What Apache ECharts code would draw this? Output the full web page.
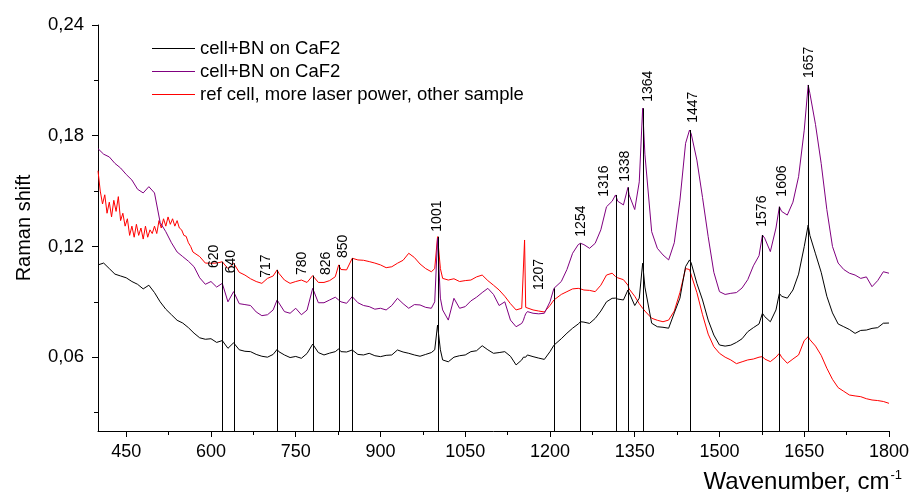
<!DOCTYPE html>
<html>
<head>
<meta charset="utf-8">
<script src="https://cdn.jsdelivr.net/npm/echarts@6/dist/echarts.min.js"></script>
<style>
html,body{margin:0;padding:0;background:#fff;}
#chart{width:912px;height:494px;}
</style>
</head>
<body>
<div id="chart"></div>
<script>
// ---- data ----
const wavenumbers = [
  400,410,420,430,440,450,460,470,480,490,
  500,510,520,530,540,550,560,570,580,590,
  600,610,620,630,640,650,660,670,680,690,
  700,710,717,720,730,740,750,760,770,780,
  790,800,810,820,826,830,840,850,860,870,
  880,890,900,910,920,930,940,950,960,970,
  980,990,996,1001,1006,1010,1020,1030,1040,1050,
  1060,1070,1080,1090,1100,1110,1120,1130,1140,1150,
  1153,1155,1157,1160,1170,1180,1190,1200,1207,1210,
  1220,1230,1240,1250,1254,1260,1270,1280,1290,1300,
  1310,1316,1320,1330,1338,1340,1350,1358,1364,1368,
  1380,1390,1400,1410,1420,1430,1440,1447,1450,1460,
  1470,1480,1490,1500,1510,1520,1530,1540,1550,1560,
  1570,1576,1580,1590,1600,1606,1610,1620,1630,1640,
  1650,1657,1660,1670,1680,1690,1700,1710,1720,1730,
  1740,1750,1760,1770,1780,1790,1800
];
const blackSpectrum = [
  0.110,0.111,0.108,0.105,0.104,0.103,0.101,0.0995,0.097,0.099,
  0.095,0.090,0.086,0.083,0.080,0.0785,0.076,0.073,0.0705,0.0697,
  0.070,0.068,0.069,0.0648,0.0678,0.064,0.0632,0.063,0.0615,0.0605,
  0.060,0.0615,0.0642,0.063,0.0612,0.0598,0.0604,0.0594,0.062,0.0671,
  0.0625,0.0612,0.0622,0.063,0.0645,0.063,0.0628,0.0639,0.0615,0.0612,
  0.0621,0.0608,0.0603,0.061,0.0612,0.0639,0.0628,0.0621,0.0612,0.0605,
  0.0615,0.0625,0.064,0.0774,0.064,0.0585,0.0575,0.060,0.0608,0.0612,
  0.063,0.0635,0.0662,0.064,0.0621,0.0625,0.063,0.0605,0.0558,0.0585,
  0.060,0.061,0.060,0.0612,0.0603,0.0595,0.0588,0.063,0.0665,0.066,
  0.070,0.073,0.0757,0.078,0.0792,0.079,0.0783,0.081,0.085,0.090,
  0.0919,0.092,0.0915,0.091,0.0964,0.095,0.088,0.092,0.1109,0.098,
  0.0784,0.0765,0.0762,0.0757,0.084,0.092,0.1091,0.1127,0.111,0.100,
  0.091,0.0801,0.072,0.0666,0.066,0.0665,0.068,0.070,0.0738,0.076,
  0.078,0.0838,0.082,0.0792,0.0856,0.0946,0.093,0.092,0.0964,0.105,
  0.1199,0.1316,0.126,0.116,0.106,0.093,0.084,0.078,0.0765,0.075,
  0.0729,0.0745,0.0747,0.0756,0.076,0.0784,0.0785
];
const purpleSpectrum = [
  0.173,0.170,0.1685,0.165,0.1625,0.159,0.156,0.151,0.149,0.1524,
  0.149,0.133,0.128,0.122,0.117,0.1145,0.112,0.109,0.103,0.0995,
  0.101,0.098,0.100,0.090,0.0955,0.089,0.0885,0.088,0.0845,0.0825,
  0.083,0.0856,0.091,0.0895,0.0847,0.0838,0.0865,0.083,0.0855,0.0973,
  0.0895,0.0895,0.091,0.0925,0.091,0.090,0.0892,0.0928,0.0895,0.088,
  0.0874,0.086,0.0865,0.0856,0.088,0.0919,0.089,0.0865,0.0885,0.0883,
  0.087,0.0865,0.090,0.1244,0.092,0.0856,0.0801,0.0919,0.0865,0.0874,
  0.0905,0.0925,0.095,0.0973,0.094,0.088,0.090,0.0801,0.0765,0.0783,
  0.080,0.082,0.0835,0.0847,0.0838,0.0835,0.0838,0.090,0.0973,0.0964,
  0.101,0.1075,0.1163,0.121,0.1217,0.121,0.119,0.1217,0.129,0.1415,
  0.1445,0.1479,0.1445,0.1425,0.152,0.148,0.140,0.155,0.1949,0.170,
  0.128,0.119,0.1154,0.1127,0.122,0.145,0.1759,0.1831,0.181,0.1668,
  0.1465,0.1253,0.106,0.0955,0.094,0.0946,0.095,0.0975,0.102,0.1095,
  0.115,0.1262,0.1245,0.1172,0.130,0.1415,0.139,0.137,0.144,0.1578,
  0.183,0.2075,0.203,0.186,0.165,0.140,0.120,0.111,0.1075,0.1055,
  0.1045,0.1027,0.1035,0.0982,0.1015,0.1063,0.1055
];
// the red spectrum is sampled more densely at its noisy low-wavenumber end
const redWavenumbers = [
  400,404,408,412,416,420,424,428,432,436,
  440,444,448,452,456,460,464,468,472,476,
  480,484,488,492,496,500,504,508,512,516,
  520,524,528,532,536,540,544,548,552,556,
  560,564,568,580,590,
  600,610,620,630,640,650,660,670,680,690,
  700,710,717,720,730,740,750,760,770,780,
  790,800,810,820,826,830,840,850,860,870,
  880,890,900,910,920,930,940,950,960,970,
  980,990,996,1001,1006,1010,1020,1030,1040,1050,
  1060,1070,1080,1090,1100,1110,1120,1130,1140,1150,
  1153,1155,1157,1160,1170,1180,1190,1200,1207,1210,
  1220,1230,1240,1250,1254,1260,1270,1280,1290,1300,
  1310,1316,1320,1330,1338,1340,1350,1358,1364,1368,
  1380,1390,1400,1410,1420,1430,1440,1447,1450,1460,
  1470,1480,1490,1500,1510,1520,1530,1540,1550,1560,
  1570,1576,1580,1590,1600,1606,1610,1620,1630,1640,
  1650,1657,1660,1670,1680,1690,1700,1710,1720,1730,
  1740,1750,1760,1770,1780,1790,1800
];
const redSpectrum = [
  0.161,0.150,0.143,0.148,0.138,0.144,0.136,0.145,0.139,0.147,
  0.134,0.138,0.131,0.135,0.126,0.131,0.125,0.132,0.126,0.130,
  0.124,0.131,0.125,0.129,0.127,0.131,0.127,0.134,0.130,0.135,
  0.131,0.136,0.132,0.135,0.131,0.134,0.130,0.129,0.126,0.1255,
  0.122,0.120,0.117,0.1145,0.111,
  0.1109,0.111,0.1117,0.108,0.1109,0.106,0.1045,0.1025,0.101,0.100,
  0.1027,0.104,0.1073,0.1055,0.1018,0.100,0.101,0.1018,0.1005,0.1042,
  0.1005,0.1005,0.1015,0.1036,0.110,0.1075,0.1073,0.1136,0.1127,0.1125,
  0.1118,0.111,0.110,0.1085,0.109,0.1109,0.1125,0.1163,0.114,0.1105,
  0.108,0.1063,0.108,0.1253,0.108,0.1027,0.1018,0.1025,0.101,0.1015,
  0.1018,0.1035,0.1045,0.1015,0.099,0.0964,0.093,0.089,0.0856,0.0865,
  0.087,0.1235,0.087,0.0865,0.0856,0.085,0.0845,0.088,0.091,0.091,
  0.094,0.0955,0.097,0.0973,0.097,0.0964,0.0962,0.0955,0.099,0.1045,
  0.1055,0.1037,0.103,0.102,0.099,0.097,0.093,0.089,0.0865,0.085,
  0.0811,0.080,0.0792,0.0801,0.085,0.095,0.108,0.1075,0.1045,0.095,
  0.083,0.0725,0.0657,0.0621,0.060,0.0585,0.0565,0.0575,0.0585,0.059,
  0.060,0.0603,0.059,0.0576,0.060,0.0621,0.060,0.0567,0.059,0.0612,
  0.069,0.0711,0.0695,0.066,0.061,0.054,0.048,0.0435,0.0415,0.0395,
  0.039,0.0386,0.0375,0.0368,0.0365,0.036,0.035
];
const legendLabels = ['cell+BN on CaF2', 'cell+BN on CaF2', 'ref cell, more laser power, other sample'];

// peak markers: position, top of the drop line, label anchor (x, bottom of text)
const peakPositions = [620,640,717,780,826,850,1001,1207,1254,1316,1338,1364,1447,1576,1606,1657];
const peakTops      = [0.1117,0.1109,0.1073,0.1042,0.110,0.1136,0.1253,0.0973,0.1217,0.1479,0.152,0.1949,0.1831,0.1262,0.1415,0.2075];
const peakLabelX    = [605,636,697,762,803,834,1000,1181,1256,1295,1333,1373,1454,1576,1611,1659];
const peakLabelY    = [0.1083,0.1055,0.103,0.1045,0.1045,0.1137,0.128,0.0964,0.1253,0.147,0.155,0.1984,0.187,0.1307,0.147,0.2113];

const xMajorTicks = [450,600,750,900,1050,1200,1350,1500,1650,1800];
const xMinorTicks = [525,675,825,975,1125,1275,1425,1575,1725];
const yMajorTicks = [0.06,0.12,0.18,0.24];
const yMinorTicks = [0.03,0.09,0.15,0.21];
const X_MIN = 400, X_MAX = 1800, Y_MIN = 0.02, Y_MAX = 0.24;

// ---- chart ----
const FONT = '"Liberation Sans", Arial, sans-serif';
const seriesIds = ['s1','s2','s3'];
const colors = ['#000000', '#800080', '#ff0000'];
const spectraX = [wavenumbers, wavenumbers, redWavenumbers];
const spectraY = [blackSpectrum, purpleSpectrum, redSpectrum];

function pairs(xs, ys){ return xs.map((x,i)=>[x, ys[i]]); }

const chart = echarts.init(document.getElementById('chart'), null, {renderer:'canvas'});
const axisLineStyle = {color:'#000', width:1};

const lineSeries = spectraY.map((ys, i) => ({
  name: seriesIds[i],
  type: 'line',
  data: pairs(spectraX[i], ys),
  showSymbol: false,
  symbol: 'none',
  color: colors[i],
  lineStyle: {color: colors[i], width: 1},
  itemStyle: {color: colors[i]},
  z: 2 + (2 - i),
  animation: false
}));

const peakData = peakPositions.map((p,i)=>[p, peakTops[i], peakLabelX[i], peakLabelY[i]]);

const peakSeries = {
  type: 'custom',
  data: peakData,
  encode: {x: 0, y: 1},
  z: 10,
  silent: true,
  animation: false,
  renderItem: function(params, api){
    const x = api.value(0), top = api.value(1), lx = api.value(2), ly = api.value(3);
    const pTop = api.coord([x, top]);
    const pBot = api.coord([x, Y_MIN]);
    const pl = api.coord([lx, ly]);
    const px = Math.round(pTop[0]) + 0.5;
    return {
      type: 'group',
      children: [
        {type:'line', shape:{x1:px, y1:pTop[1], x2:px, y2:pBot[1]}, style:{stroke:'#000', lineWidth:1}},
        {type:'text', x: pl[0], y: pl[1], rotation: Math.PI/2,
          style:{text: String(x), align:'left', verticalAlign:'middle', fontSize:14, fontFamily:FONT, fill:'#000'}}
      ]
    };
  }
};

const option = {
  backgroundColor: '#ffffff',
  animation: false,
  grid: {left: 98, right: 21, top: 25, bottom: 63, containLabel: false},
  legend: {
    data: seriesIds.map((id,i)=>({name:id, itemStyle:{color:colors[i]}})),
    orient: 'vertical',
    left: 152, top: 39,
    padding: 0,
    icon: 'rect',
    itemWidth: 43, itemHeight: 1,
    itemGap: 4,
    selectedMode: false,
    formatter: function(name){ return legendLabels[seriesIds.indexOf(name)]; },
    textStyle: {fontSize: 18.5, fontFamily: FONT, color: '#000'}
  },
  xAxis: [{
    type: 'value', min: X_MIN, max: X_MAX, position: 'bottom',
    axisLine: {show: true, lineStyle: axisLineStyle},
    axisTick: {show: true, inside: false, length: 6, lineStyle: axisLineStyle, customValues: xMajorTicks},
    axisLabel: {show: true, customValues: xMajorTicks, fontSize: 18, fontFamily: FONT, color:'#000', margin: 12,
      formatter: function(v){ return String(v); }},
    splitLine: {show: false},
    name: 'Wavenumber, cm{sup|-1}',
    nameLocation: 'end',
    nameGap: 13,
    nameTextStyle: {fontSize: 24, fontFamily: FONT, color:'#000', align:'right', verticalAlign:'top', padding:[38,0,0,0],
      rich: {sup: {fontSize: 13, fontFamily: FONT, color:'#000', verticalAlign:'top', padding:[0,0,13,1]}}}
  },{
    type: 'value', min: X_MIN, max: X_MAX, position: 'bottom',
    axisLine: {show: false},
    axisTick: {show: true, inside: false, length: 4, lineStyle: axisLineStyle, customValues: xMinorTicks},
    axisLabel: {show: false},
    splitLine: {show: false}
  }],
  yAxis: [{
    type: 'value', min: Y_MIN, max: Y_MAX, position: 'left',
    axisLine: {show: true, lineStyle: axisLineStyle},
    axisTick: {show: true, inside: false, length: 6, lineStyle: axisLineStyle, customValues: yMajorTicks},
    axisLabel: {show: true, customValues: yMajorTicks, fontSize: 18.5, fontFamily: FONT, color:'#000', margin: 14,
      formatter: function(v){ return v.toFixed(2).replace('.', ','); }},
    splitLine: {show: false},
    name: 'Raman shift',
    nameLocation: 'middle',
    nameGap: 64,
    nameTextStyle: {fontSize: 20, fontFamily: FONT, color:'#000'}
  },{
    type: 'value', min: Y_MIN, max: Y_MAX, position: 'left',
    axisLine: {show: false},
    axisTick: {show: true, inside: false, length: 4, lineStyle: axisLineStyle, customValues: yMinorTicks},
    axisLabel: {show: false},
    splitLine: {show: false}
  }],
  series: lineSeries.concat([peakSeries])
};
chart.setOption(option);
</script>
</body>
</html>
